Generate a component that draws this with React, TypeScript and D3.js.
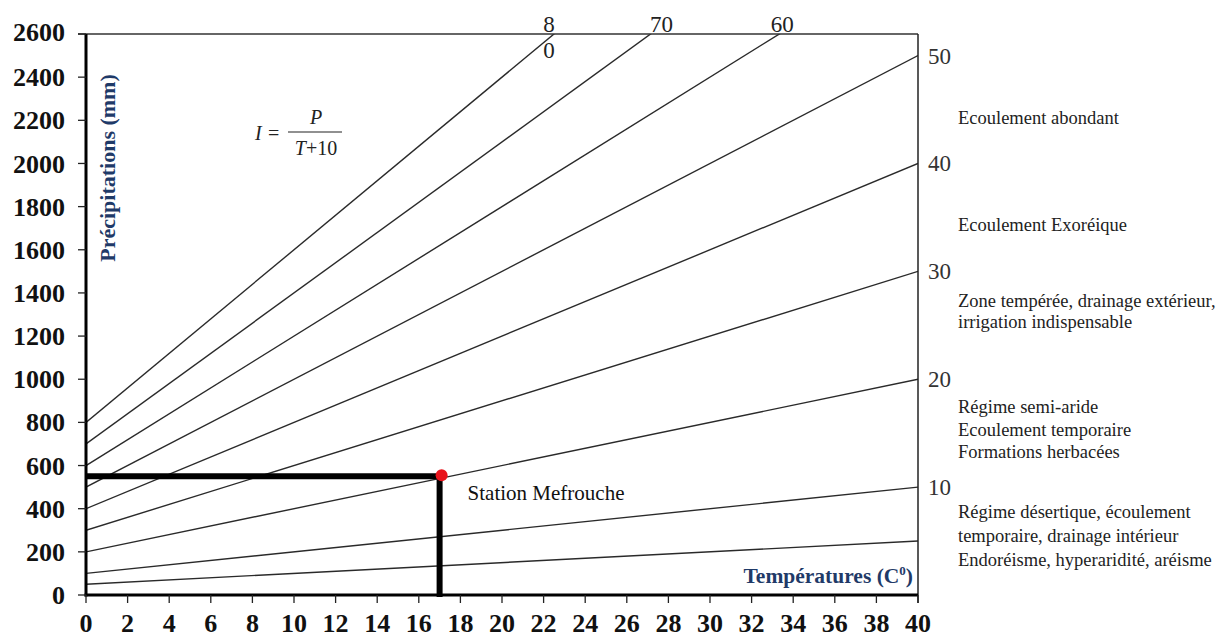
import React from "react";
import * as d3 from "d3";

// Iso-lines of the De Martonne aridity index I = P / (T + 10)
const aridityIndex = [5, 10, 20, 30, 40, 50, 60, 70, 80];
const precipAt0C = [50, 100, 200, 300, 400, 500, 600, 700, 800];
const precipAt40C = [250, 500, 1000, 1500, 2000, 2500, 3000, 3500, 4000];

const temperatureTicks = [0, 2, 4, 6, 8, 10, 12, 14, 16, 18, 20, 22, 24, 26, 28, 30, 32, 34, 36, 38, 40];
const precipitationTicks = [0, 200, 400, 600, 800, 1000, 1200, 1400, 1600, 1800, 2000, 2200, 2400, 2600];

const stationName = "Station Mefrouche";
const stationTemperature = 17;
const stationPrecipitation = 550;

const zoneDescriptions = [
  ["Ecoulement abondant"],
  ["Ecoulement Exoréique"],
  ["Zone tempérée, drainage extérieur,", "irrigation indispensable"],
  ["Régime semi-aride", "Ecoulement temporaire", "Formations herbacées"],
  ["Régime désertique, écoulement", "temporaire, drainage intérieur", "Endoréisme, hyperaridité, aréisme"],
];

const W = 1231;
const H = 637;
const SERIF = "'Liberation Serif', 'Times New Roman', 'DejaVu Serif', serif";
const TITLE_BLUE = "#1f3a68";

export default function App() {
  const x = d3.scaleLinear().domain([0, 40]).range([86, 918]);
  const y = d3.scaleLinear().domain([0, 2600]).range([595, 34]);
  const [x0, x1] = x.range();
  const [yBottom, yTop] = y.range();
  const pMax = y.domain()[1];

  const line = d3
    .line<[number, number]>()
    .x((d) => x(d[0]))
    .y((d) => y(d[1]));

  const isoLines = aridityIndex.map((idx, i) => ({
    idx,
    p0: precipAt0C[i],
    p40: precipAt40C[i],
  }));

  // label nudges for the lines that leave through the top edge
  const topLabelShift: Record<number, number> = { 60: 3, 70: 11, 80: -5 };

  // baselines of the zone text blocks down the right margin
  const zoneBaselines = [124, 231, 307, 413, 518];
  const zoneLineGap = [0, 0, 21, 22.5, 24];

  const sx = x(stationTemperature);
  const sy = y(stationPrecipitation);

  return (
    <svg width={W} height={H} style={{ display: "block", position: "absolute", left: 0, top: 0 }} fontFamily={SERIF}>
      <rect width={W} height={H} fill="#fff" />
      <defs>
        <clipPath id="plotClip">
          <rect x={x0} y={yTop} width={x1 - x0} height={yBottom - yTop} />
        </clipPath>
      </defs>

      {/* iso-index lines */}
      <g clipPath="url(#plotClip)">
        {isoLines.map((l) => (
          <path
            key={l.idx}
            d={line([
              [0, l.p0],
              [40, l.p40],
            ]) as string}
            fill="none"
            stroke="#2a2a2a"
            strokeWidth={1.4}
          />
        ))}
      </g>

      {/* labels of the lines that leave through the top edge */}
      {isoLines
        .filter((l) => l.p40 > pMax)
        .map((l) => {
          const tCross = ((pMax - l.p0) / (l.p40 - l.p0)) * 40;
          const cx = x(tCross) + (topLabelShift[l.idx] ?? 0);
          if (l.idx === 80) {
            return (
              <g key={l.idx} fontSize={23} fill="#222" textAnchor="middle">
                <text x={cx} y={yTop - 2}>8</text>
                <text x={cx} y={yTop + 24}>0</text>
              </g>
            );
          }
          return (
            <text key={l.idx} x={cx} y={yTop - 2} fontSize={23} fill="#222" textAnchor="middle">
              {l.idx}
            </text>
          );
        })}

      {/* labels of the lines that end on the right edge */}
      {isoLines
        .filter((l) => l.p40 <= pMax && l.idx >= 10)
        .map((l) => (
          <text key={l.idx} x={x1 + 10} y={y(l.p40) + 8} fontSize={23} fill="#333">
            {l.idx}
          </text>
        ))}

      {/* frame */}
      <line x1={78} x2={x1} y1={yTop} y2={yTop} stroke="#333" strokeWidth={1.5} />
      <line x1={x1} x2={x1} y1={yTop} y2={yBottom + 8} stroke="#222" strokeWidth={1.5} />
      <line x1={x0} x2={x0} y1={yTop} y2={yBottom + 1.5} stroke="#000" strokeWidth={3} />
      <line x1={x0 - 1.5} x2={x1} y1={yBottom} y2={yBottom} stroke="#000" strokeWidth={3} />

      {/* y axis */}
      {precipitationTicks.map((t) => (
        <g key={t}>
          <line x1={78} x2={x0} y1={y(t)} y2={y(t)} stroke="#222" strokeWidth={1.3} />
          <text
            x={65}
            y={y(t) - (t === pMax ? 2 : 0)}
            dy="0.35em"
            textAnchor="end"
            fontSize={26}
            fontWeight="bold"
            fill="#111"
          >
            {t}
          </text>
        </g>
      ))}

      {/* x axis */}
      {temperatureTicks.map((t) => (
        <g key={t}>
          <line x1={x(t)} x2={x(t)} y1={yBottom} y2={yBottom + 8} stroke="#222" strokeWidth={1.3} />
          <text x={x(t)} y={yBottom + 37} textAnchor="middle" fontSize={26} fontWeight="bold" fill="#111">
            {t}
          </text>
        </g>
      ))}

      {/* axis titles */}
      <text
        transform={`translate(115,168) rotate(-90)`}
        textAnchor="middle"
        fontSize={22}
        fontWeight="bold"
        fill={TITLE_BLUE}
      >
        Précipitations (mm)
      </text>
      <text x={913} y={583} textAnchor="end" fontSize={21.5} fontWeight="bold" fill={TITLE_BLUE}>
        Températures (C
        <tspan fontSize={13} dy={-8}>0</tspan>
        <tspan dy={8}>)</tspan>
      </text>

      {/* index formula */}
      <g fill="#222" fontSize={20}>
        <text x={255} y={140} fontStyle="italic">I</text>
        <text x={268} y={140}>=</text>
        <text x={316} y={124} textAnchor="middle" fontStyle="italic">P</text>
        <line x1={288} x2={342} y1={132} y2={132} stroke="#222" strokeWidth={1.1} />
        <text x={316} y={155} textAnchor="middle">
          <tspan fontStyle="italic">T</tspan>+10
        </text>
      </g>

      {/* station reading */}
      <line x1={x0} x2={sx} y1={sy} y2={sy} stroke="#000" strokeWidth={6} />
      <line x1={sx} x2={sx} y1={sy} y2={yBottom + 2} stroke="#000" strokeWidth={6} />
      <circle cx={sx + 2} cy={sy - 1} r={6} fill="#e8141c" />
      <text x={sx + 28} y={sy + 24} fontSize={21} fill="#111">
        {stationName}
      </text>

      {/* climate zones */}
      {zoneDescriptions.map((lines, i) => (
        <text key={i} fontSize={18.5} fill="#222">
          {lines.map((s, j) => (
            <tspan key={j} x={958} y={zoneBaselines[i] + j * zoneLineGap[i]}>
              {s}
            </tspan>
          ))}
        </text>
      ))}
    </svg>
  );
}
